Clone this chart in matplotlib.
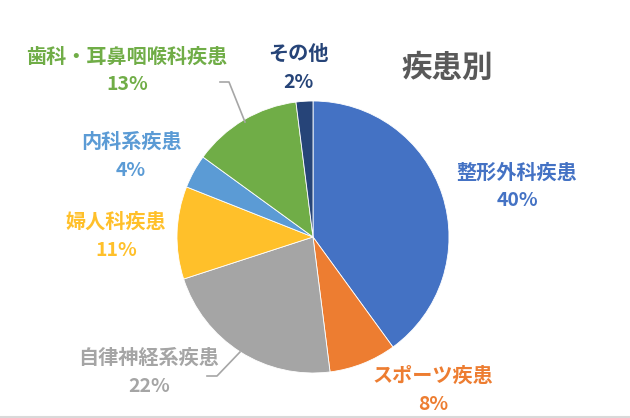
import matplotlib
matplotlib.use('Agg')
import matplotlib.pyplot as plt
from matplotlib.lines import Line2D

plt.rcParams['font.family'] = ['Noto Sans CJK JP', 'DejaVu Sans']

# data
categories = ['整形外科疾患', 'スポーツ疾患', '自律神経系疾患', '婦人科疾患',
              '内科系疾患', '歯科・耳鼻咽喉科疾患', 'その他']
shares = [40, 8, 22, 11, 4, 13, 2]
title = '疾患別'

colors = ['#4472C4', '#ED7D31', '#A5A5A5', '#FFC02A', '#5B9BD5', '#70AD47', '#264478']

W, H = 630, 418
# label centres in pixels (x, y from top)
label_pos = [(517, 172), (433, 375), (149, 357), (116, 221),
             (131, 141), (127, 56), (298, 53)]
gap = 29

fig = plt.figure(figsize=(6.3, 4.18), dpi=100)
ax = fig.add_axes([0, 0, 1, 1])
ax.set_xlim(0, W)
ax.set_ylim(0, H)
ax.axis('off')

ax.pie(shares, colors=colors, startangle=90, counterclock=False,
       center=(313, H - 237), radius=136,
       wedgeprops=dict(linewidth=0.6, edgecolor='white'))
ax.set_xlim(0, W)
ax.set_ylim(0, H)
ax.set_aspect('equal')

for name, val, col, (x, y) in zip(categories, shares, colors, label_pos):
    ax.text(x, H - y, name, color=col, fontsize=14.5, fontweight='bold',
            ha='center', va='center')
    ax.text(x, H - y - gap, f'{val}%', color=col, fontsize=14, fontweight='bold',
            ha='center', va='center')

# leader lines
ax.plot([220, 229, 245], [H - 82, H - 82, H - 122], color='#A6A6A6', lw=1.2)
ax.plot([207, 217, 240], [H - 376, H - 376, H - 352], color='#A6A6A6', lw=1.2)

ax.text(447, H - 68, title, color='#595959', fontsize=22, fontweight='bold',
        ha='center', va='center')

fig.add_artist(Line2D([0, 1], [0.002, 0.002], color='#D9D9D9', lw=1.5))

fig.savefig('out.png', dpi=100, facecolor='white')
